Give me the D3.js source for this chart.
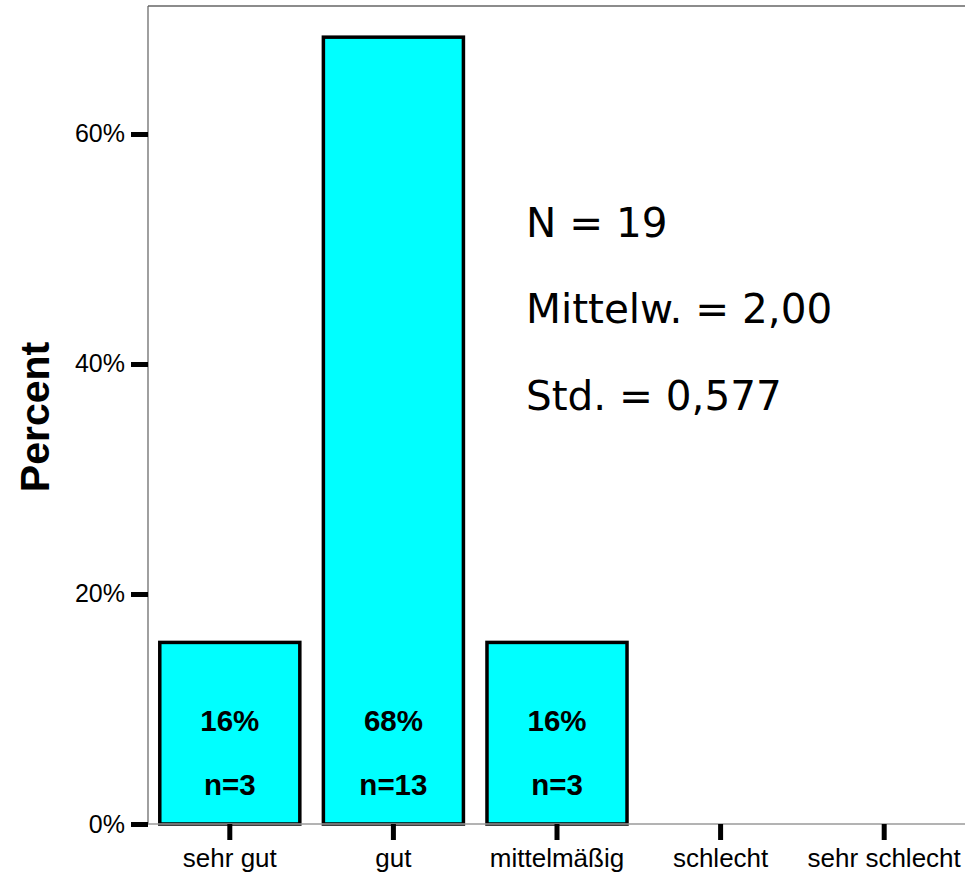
<!DOCTYPE html>
<html>
<head>
<meta charset="utf-8">
<script src="https://cdn.jsdelivr.net/npm/d3@7/dist/d3.min.js"></script>
<style>
html,body{margin:0;padding:0;background:#fff;}
svg{display:block;}
</style>
</head>
<body>
<svg id="chart" width="965" height="877"></svg>
<script>
const categories = ["sehr gut", "gut", "mittelmäßig", "schlecht", "sehr schlecht"];
const percents = [15.79, 68.42, 15.79, 0, 0];
const counts = [3, 13, 3, 0, 0];
const yTicks = [0, 20, 40, 60];
const yMax = 71.13;
const stats = ["N = 19", "Mittelw. = 2,00", "Std. = 0,577"];

(function () {
const svg = d3.select("#chart");
const pLeft = 148, pRight = 966, pTop = 6, pBottom = 824;

const x = d3.scaleBand().domain(categories).range([pLeft, pRight]).paddingInner(0.144).paddingOuter(0.072);
const y = d3.scaleLinear().domain([0, yMax]).range([pBottom, pTop]);

// frame lines
svg.append("line").attr("x1", pLeft).attr("x2", 965).attr("y1", pTop).attr("y2", pTop)
  .attr("stroke", "#8c8c8c").attr("stroke-width", 2);
svg.append("line").attr("x1", pLeft).attr("x2", pLeft).attr("y1", pTop).attr("y2", pBottom)
  .attr("stroke", "#606060").attr("stroke-width", 1.2);

// bars
const data = categories.map((c, i) => ({c, p: percents[i], n: counts[i]}));
const barsData = data.filter(d => d.n > 0);
svg.selectAll("rect.bar").data(barsData).enter().append("rect")
  .attr("class", "bar")
  .attr("x", d => x(d.c))
  .attr("y", d => y(d.p))
  .attr("width", x.bandwidth())
  .attr("height", d => y(0) - y(d.p))
  .attr("fill", "#00ffff")
  .attr("stroke", "#000")
  .attr("stroke-width", 3.5);

// bottom baseline
svg.append("line").attr("x1", pLeft).attr("x2", 965).attr("y1", pBottom).attr("y2", pBottom)
  .attr("stroke", "#9a9a9a").attr("stroke-width", 1.5);

// bar labels
svg.selectAll("text.pct").data(barsData).enter().append("text")
  .attr("x", d => x(d.c) + x.bandwidth() / 2)
  .attr("y", y(0) - 93)
  .attr("text-anchor", "middle")
  .attr("font-family", "Liberation Sans, Arial, sans-serif")
  .attr("font-weight", "bold").attr("font-size", 29.5)
  .text(d => Math.round(d.p) + "%");
svg.selectAll("text.cnt").data(barsData).enter().append("text")
  .attr("x", d => x(d.c) + x.bandwidth() / 2)
  .attr("y", y(0) - 29)
  .attr("text-anchor", "middle")
  .attr("font-family", "Liberation Sans, Arial, sans-serif")
  .attr("font-weight", "bold").attr("font-size", 29.5)
  .text(d => "n=" + d.n);

// y axis
const yAxis = d3.axisLeft(y).tickValues(yTicks).tickSize(17).tickPadding(6).tickFormat(d => d + "%");
const gy = svg.append("g").attr("transform", `translate(${pLeft},0)`).call(yAxis);
gy.select(".domain").remove();
gy.selectAll(".tick line").attr("stroke", "#000").attr("stroke-width", 5);
gy.selectAll(".tick text").attr("font-family", "Liberation Sans, Arial, sans-serif")
  .attr("font-size", 25).attr("fill", "#000");

// x axis
const xAxis = d3.axisBottom(x).tickSize(16).tickPadding(9);
const gx = svg.append("g").attr("transform", `translate(0,${pBottom})`).call(xAxis);
gx.select(".domain").remove();
gx.selectAll(".tick line").attr("stroke", "#000").attr("stroke-width", 5);
gx.selectAll(".tick text").attr("font-family", "Liberation Sans, Arial, sans-serif")
  .attr("font-size", 26).attr("fill", "#000");

// y title
svg.append("text")
  .attr("transform", "translate(49,417) rotate(-90)")
  .attr("text-anchor", "middle")
  .attr("font-family", "Liberation Sans, Arial, sans-serif")
  .attr("font-weight", "bold").attr("font-size", 41)
  .text("Percent");

// stats
const statY = [237, 323, 410];
svg.selectAll("text.stat").data(stats).enter().append("text")
  .attr("x", 526).attr("y", (d, i) => statY[i])
  .attr("font-family", "DejaVu Sans, Verdana, sans-serif")
  .attr("font-size", 40.5).attr("fill", "#000")
  .text(d => d);
})();
</script>
</body>
</html>
